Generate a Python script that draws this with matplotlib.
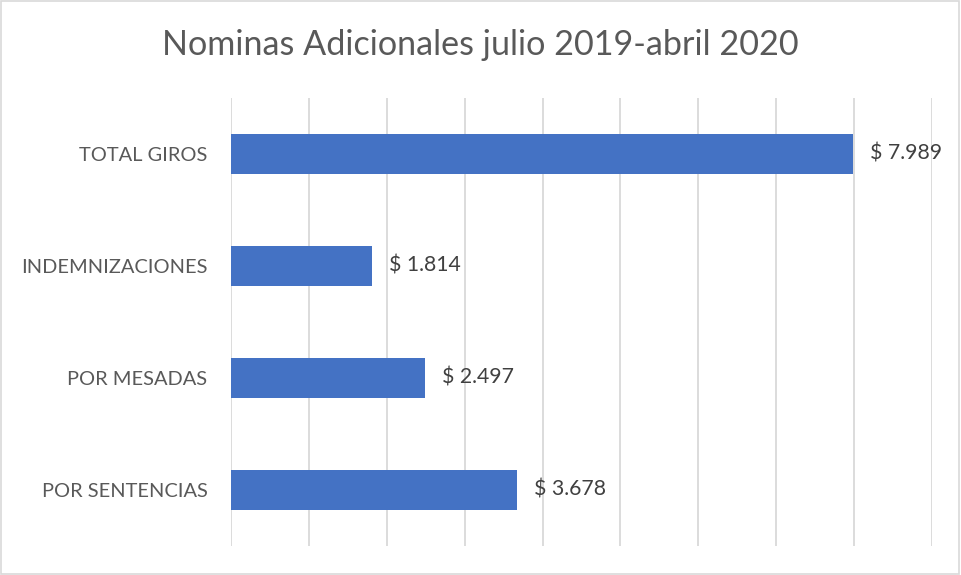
import matplotlib
matplotlib.use("Agg")
from matplotlib import pyplot as plt
from matplotlib.patches import Rectangle
from matplotlib.ticker import MultipleLocator

categories = ["POR SENTENCIAS", "POR MESADAS", "INDEMNIZACIONES", "TOTAL GIROS"]
values = [3678, 2497, 1814, 7989]
labels = ["$ 3.678", "$ 2.497", "$ 1.814", "$ 7.989"]

plt.rcParams["font.family"] = ["Lato", "DejaVu Sans"]

text_c = "#595959"
bar_c = "#4472C4"
grid_c = "#D9D9D9"

fig = plt.figure(figsize=(9.61, 5.75), dpi=100)
ax = fig.add_axes([231 / 961, 1 - 546 / 575, (932 - 231) / 961, (546 - 98) / 575])

y = range(len(categories))
ax.barh(y, values, height=0.35, color=bar_c, zorder=2)

for yi, v, lab in zip(y, values, labels):
    ax.annotate(lab, (v, yi), xytext=(12, 0), textcoords="offset points",
                va="center", ha="left", fontsize=15.3, color="#404040")

ax.set_xlim(0, 9000)
ax.set_ylim(-0.5, len(categories) - 0.5)
ax.xaxis.set_major_locator(MultipleLocator(1000))
ax.grid(axis="x", color=grid_c, lw=1.3, zorder=0)
ax.set_xticklabels([])
ax.tick_params(axis="x", length=0)
ax.tick_params(axis="y", length=0, pad=17, labelsize=14.4, labelcolor=text_c)
ax.set_yticks(list(y))
ax.set_yticklabels(categories)
for s in ax.spines.values():
    s.set_visible(False)

fig.text(0.5, 1 - 45 / 575, "Nominas Adicionales julio 2019-abril 2020",
         ha="center", va="center", fontsize=24.6, color=text_c)

# outer frame
fig.patches.append(Rectangle((0.001, 0.002), 0.997, 0.996, transform=fig.transFigure,
                             fill=False, ec=grid_c, lw=1.2))

fig.savefig("out.png", dpi=100)
